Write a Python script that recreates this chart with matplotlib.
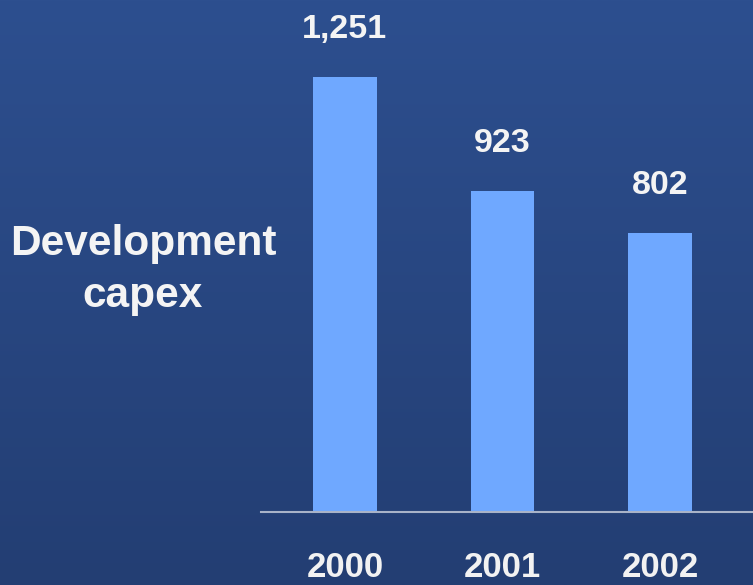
import numpy as np
import matplotlib
matplotlib.use("Agg")
import matplotlib.pyplot as plt
from matplotlib.colors import LinearSegmentedColormap

years = ["2000", "2001", "2002"]
values = [1251, 923, 802]
value_labels = ["1,251", "923", "802"]

W, H = 753, 585
fig = plt.figure(figsize=(W / 100, H / 100), dpi=100)

# gradient background
bg = fig.add_axes([0, 0, 1, 1], zorder=-10)
cmap = LinearSegmentedColormap.from_list("bg", ["#2d4f8f", "#233e73"])
grad = np.linspace(0, 1, 256).reshape(-1, 1)
bg.imshow(grad, aspect="auto", cmap=cmap, extent=[0, 1, 0, 1], origin="upper")
bg.set_axis_off()

left_px, base_px = 261, 512
ax = fig.add_axes([left_px / W, (H - base_px) / H, (W - left_px) / W, base_px / H])
ax.patch.set_alpha(0)

x = np.arange(len(years))
bars = ax.bar(x, values, width=0.406, color="#6fa8ff", zorder=2)
ax.set_xlim(-0.533, 2.59)
ax.set_ylim(0, 1472)

for xi, v, lab in zip(x, values, value_labels):
    ax.annotate(lab, (xi, v), xytext=(0, 28), textcoords="offset points",
                ha="center", va="baseline", color="#f4f4f4",
                fontsize=24.5, fontweight="bold", family="Liberation Sans")

ax.set_xticks(x)
ax.set_xticklabels(years, fontsize=25, fontweight="bold", family="Liberation Sans",
                   color="#f2f2f2")
ax.tick_params(axis="x", length=0, pad=28)
ax.set_yticks([])
for s in ["top", "right", "left"]:
    ax.spines[s].set_visible(False)
ax.spines["bottom"].set_color("#a9b3c8")
ax.spines["bottom"].set_linewidth(1.5)

fig.text(143 / W, 1 - 270 / H, "Development\ncapex", ha="center", va="center",
         fontsize=30.5, fontweight="bold", family="Liberation Sans", color="#f4f4f4",
         linespacing=1.36)

fig.savefig("out.png", dpi=100)
